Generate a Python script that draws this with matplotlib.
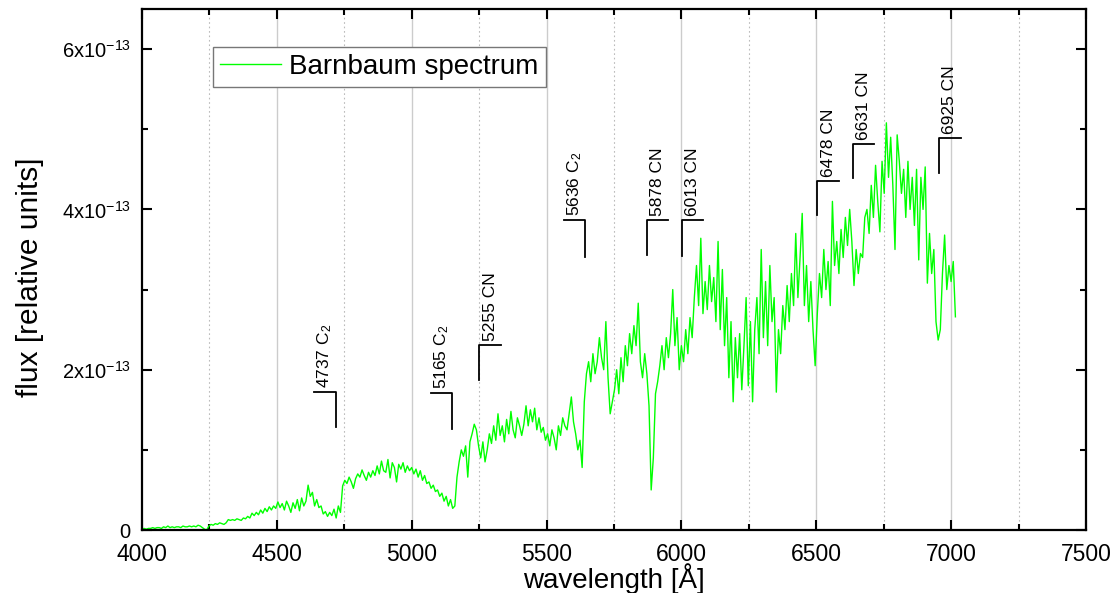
import numpy as np
import matplotlib
matplotlib.use('Agg')
import matplotlib.pyplot as plt
from matplotlib.ticker import MultipleLocator, FixedLocator, FixedFormatter

plt.rcParams['font.family'] = ['Liberation Sans', 'DejaVu Sans']
plt.rcParams['mathtext.fontset'] = 'custom'
plt.rcParams['mathtext.rm'] = 'Liberation Sans'
plt.rcParams['mathtext.it'] = 'Liberation Sans:italic'
plt.rcParams['mathtext.bf'] = 'Liberation Sans:bold'

# spectrum, flux in units of 1e-13, 8 A sampling
STEP = 8
flux_4000 = [0.01, 0.02, 0.01, 0.02, 0.02, 0.03, 0.02, 0.03, 0.03, 0.02, 0.04, 0.03,
             0.05, 0.03, 0.04, 0.03, 0.04, 0.04, 0.03, 0.05, 0.04, 0.04, 0.05, 0.04,
             0.05, 0.04, 0.06, 0.05, 0.03, 0.01, 0.0, 0.05]
flux_4256 = [0.07, 0.06, 0.08, 0.07, 0.09, 0.08, 0.07, 0.09, 0.13, 0.12, 0.13, 0.12,
             0.14, 0.13, 0.12, 0.15, 0.14, 0.17, 0.15, 0.21, 0.18, 0.22, 0.19, 0.25,
             0.21, 0.27, 0.23, 0.29, 0.25, 0.3, 0.27]
flux_4504 = [0.35, 0.28, 0.33, 0.25, 0.36, 0.3, 0.22, 0.34, 0.27, 0.38, 0.24, 0.4,
             0.3, 0.36, 0.56, 0.42, 0.47, 0.3, 0.38, 0.28, 0.3, 0.2, 0.23, 0.17,
             0.22, 0.18, 0.26, 0.15, 0.3, 0.22, 0.55]
flux_4752 = [0.62, 0.58, 0.66, 0.6, 0.52, 0.64, 0.7, 0.66, 0.75, 0.68, 0.62, 0.72,
             0.66, 0.74, 0.68, 0.8, 0.7, 0.86, 0.74, 0.72, 0.88, 0.65, 0.84, 0.78,
             0.6, 0.82, 0.76, 0.84, 0.72, 0.8, 0.74]
flux_5000 = [0.78, 0.7, 0.76, 0.66, 0.74, 0.62, 0.68, 0.58, 0.6, 0.52, 0.56, 0.48,
             0.5, 0.42, 0.46, 0.36, 0.42, 0.3, 0.38, 0.27]
flux_5160 = [0.3, 0.66, 0.85, 1.0, 0.92, 1.05, 0.66, 1.1, 1.2, 1.32, 1.25, 1.05,
             0.9, 1.1, 0.85, 1.0, 1.2, 1.08, 1.3, 1.12, 1.45, 1.18, 1.3, 1.1,
             1.38, 1.2, 1.48, 1.25, 1.15, 1.4, 1.3, 1.18, 1.32, 1.55, 1.3, 1.5,
             1.35, 1.52, 1.25, 1.4, 1.22, 1.28, 1.12]
flux_5504 = [1.2, 1.05, 1.25, 1.15, 1.0, 1.3, 1.18, 1.4, 1.3, 1.25, 1.45, 1.66,
             1.35, 1.2, 1.0, 1.12, 0.78, 1.6, 1.95, 2.1]
flux_5664 = [1.85, 2.2, 1.95, 2.1, 2.4, 2.15, 2.0, 2.6, 1.9, 1.45, 1.6, 1.75,
             2.0, 1.7, 2.15, 1.85, 2.3, 2.05, 2.45, 2.2, 2.55, 2.3, 2.83, 2.1,
             1.9, 2.2, 1.95, 1.55, 0.5, 0.9]
flux_5904 = [1.7, 1.85, 2.05, 2.3, 2.0, 2.4, 2.15, 2.45, 3.0, 2.3, 2.65, 2.0,
             2.3, 2.1, 2.5, 2.2, 2.65, 2.4, 2.9, 3.3, 2.8, 3.64, 2.7, 3.1,
             2.75, 3.3, 2.85, 3.15, 2.6, 3.6, 2.5, 3.25, 2.3, 2.9, 1.9, 2.6,
             1.6, 2.4]
flux_6208 = [1.9, 2.45, 1.75, 2.3, 2.9, 1.8, 2.6, 1.6, 2.5, 2.9, 2.2, 3.5,
             2.4, 3.1, 2.3, 3.3, 2.6, 2.9, 1.72, 2.5, 2.2, 2.8, 2.5, 3.05,
             2.6, 3.2, 2.8, 3.7, 2.9, 3.4, 3.95, 2.8, 3.3, 2.6, 3.1, 2.5, 2.05]
flux_6504 = [2.7, 3.2, 2.9, 3.5, 3.0, 3.35, 2.8, 4.1, 3.3, 3.6, 3.2, 3.75,
             3.4, 3.9, 3.55, 4.0, 3.6, 3.05, 3.5, 3.2, 3.45, 3.4, 3.9, 4.0,
             3.7, 4.3, 3.9, 4.55, 4.1, 3.72, 4.6, 4.2, 5.08]
flux_6768 = [4.4, 4.9, 4.3, 3.5, 4.93, 4.6, 4.2, 4.5, 3.9, 4.6, 4.0, 4.4,
             3.8, 4.5, 3.37, 4.4, 4.0, 4.53, 3.08, 3.7, 3.2, 3.5, 2.6, 2.37,
             2.5, 3.2, 3.68, 3.0, 3.3, 3.1, 3.35, 2.66]

segments = [(4000, flux_4000), (4256, flux_4256), (4504, flux_4504), (4752, flux_4752),
            (5000, flux_5000), (5160, flux_5160), (5504, flux_5504), (5664, flux_5664),
            (5904, flux_5904), (6208, flux_6208), (6504, flux_6504), (6768, flux_6768)]

# line identifications: where the marker stands, its extent and which side the tab goes
line_labels = ['4737 C$_2$', '5165 C$_2$', '5255 CN', '5636 C$_2$', '5878 CN',
               '6013 CN', '6478 CN', '6631 CN', '6925 CN']
line_pos = [4718, 5150, 5251, 5643, 5871, 6001, 6504, 6635, 6955]
line_bottom = [1.285, 1.26, 1.87, 3.41, 3.43, 3.42, 3.93, 4.39, 4.45]
line_top = [1.72, 1.71, 2.31, 3.87, 3.87, 3.87, 4.35, 4.82, 4.89]
line_side = [-1, -1, 1, -1, 1, 1, 1, 1, 1]

ytick_vals = [0, 2e-13, 4e-13, 6e-13]
ytick_labels = ['0', '2x10$^{-13}$', '4x10$^{-13}$', '6x10$^{-13}$']

wl = np.concatenate([start + STEP * np.arange(len(v)) for start, v in segments])
flux = np.concatenate([np.array(v) for _, v in segments]) * 1e-13

fig = plt.figure(figsize=(11.17, 5.93), dpi=100)
ax = fig.add_axes([0.1271, 0.1062, 0.8451, 0.8786])

# grid: solid majors, dotted minors, vertical only
for x in range(4500, 7500, 500):
    ax.axvline(x, color='#cccccc', lw=1.0, zorder=0)
for x in range(4250, 7500, 500):
    ax.axvline(x, color='#bbbbbb', lw=0.8, ls=(0, (1.5, 2.5)), zorder=0)

ax.plot(wl, flux, color='#00ff00', lw=1.0, label='Barnbaum spectrum', zorder=2)

for lab, p, b, t, s in zip(line_labels, line_pos, line_bottom, line_top, line_side):
    ax.plot([p, p, p + s * 80], [b * 1e-13, t * 1e-13, t * 1e-13], color='black', lw=1.3, zorder=3)
    ax.text(p + s * 40, (t + 0.05) * 1e-13, lab, rotation=90, ha='center', va='bottom',
            fontsize=12.5)

ax.set_xlim(4000, 7500)
ax.set_ylim(0, 6.5e-13)
ax.xaxis.set_major_locator(MultipleLocator(500))
ax.xaxis.set_minor_locator(MultipleLocator(250))
ax.yaxis.set_major_locator(FixedLocator(ytick_vals))
ax.yaxis.set_major_formatter(FixedFormatter(ytick_labels))
ax.yaxis.set_minor_locator(MultipleLocator(1e-13))
ax.tick_params(which='both', direction='in', top=True, right=True, width=1.5)
ax.tick_params(which='major', length=7)
ax.tick_params(which='minor', length=4)
ax.tick_params(axis='x', labelsize=16.5, pad=9)
ax.tick_params(axis='y', labelsize=14.5, pad=8)
for sp in ax.spines.values():
    sp.set_linewidth(1.6)

ax.set_xlabel('wavelength [Å]', fontsize=20, va='top')
ax.xaxis.set_label_coords(0.5, -0.064)
ax.set_ylabel('flux [relative units]', fontsize=21.5)
ax.yaxis.set_label_coords(-0.104, 0.485)

leg = ax.legend(loc='upper left', bbox_to_anchor=(0.0752, 0.927), borderaxespad=0,
                fontsize=20, fancybox=False, framealpha=1, edgecolor='#777777',
                handlelength=2.2, handletextpad=0.3, borderpad=0.25)
leg.get_frame().set_linewidth(1.0)

fig.savefig('out.png', dpi=100)
